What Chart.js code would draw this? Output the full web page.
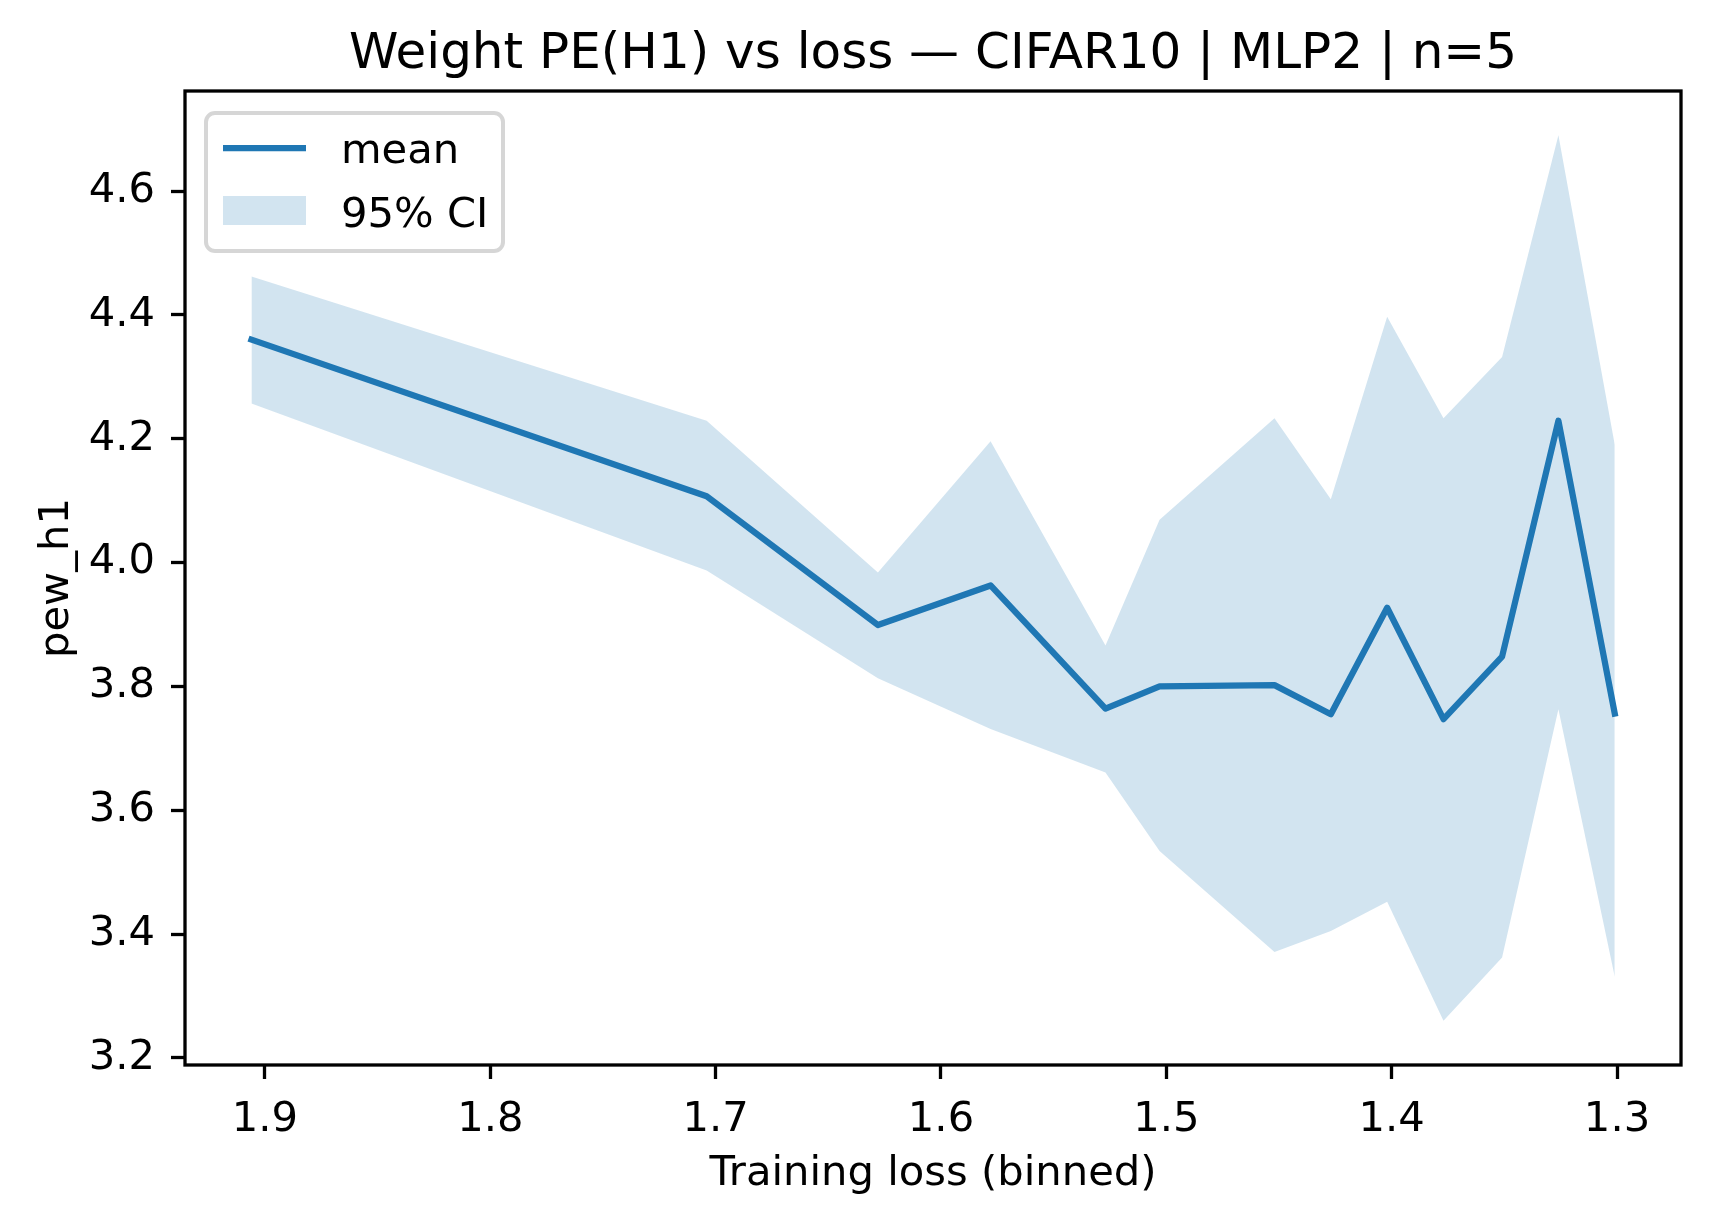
<!DOCTYPE html>
<html>
<head>
<meta charset="utf-8">
<script src="https://cdn.jsdelivr.net/npm/chart.js@4.4.0/dist/chart.umd.min.js"></script>
<style>
  html, body { margin: 0; padding: 0; background: #fff; }
  canvas { display: block; }
</style>
</head>
<body>
<canvas id="grafica" width="1711" height="1225"></canvas>
<script>
const lossBins = [1.906, 1.704, 1.628, 1.578, 1.527, 1.503, 1.452, 1.427, 1.402, 1.377, 1.351, 1.326, 1.301];
const meanValues = [4.360, 4.107, 3.899, 3.963, 3.764, 3.800, 3.802, 3.755, 3.927, 3.747, 3.848, 4.229, 3.756];
const upperValues = [4.462, 4.229, 3.984, 4.196, 3.866, 4.069, 4.233, 4.102, 4.397, 4.233, 4.332, 4.690, 4.190];
const lowerValues = [4.257, 3.987, 3.813, 3.731, 3.661, 3.534, 3.371, 3.405, 3.452, 3.260, 3.362, 3.763, 3.331];
const xTicks = [1.3, 1.4, 1.5, 1.6, 1.7, 1.8, 1.9];
const yTicks = [3.2, 3.4, 3.6, 3.8, 4.0, 4.2, 4.4, 4.6];

const titleText = 'Weight PE(H1) vs loss \u2014 CIFAR10 | MLP2 | n=5';
const blue = 'rgb(31, 119, 180)';
const blueBand = 'rgba(31, 119, 180, 0.2)';
const font = 'DejaVu Sans';

const points = (ys) => lossBins.map((x, i) => ({ x: x, y: ys[i] }));

// frame, legend box and title, drawn like matplotlib does
const decor = {
    id: 'decor',
    afterDatasetsDraw(chart) {
        const { ctx, chartArea: a } = chart;
        ctx.save();
        ctx.strokeStyle = '#000';
        ctx.lineWidth = 3.3;
        ctx.strokeRect(a.left, a.top, a.right - a.left, a.bottom - a.top);

        // legend
        const bx = 206, by = 113, bw = 297, bh = 138, r = 9;
        ctx.beginPath();
        ctx.moveTo(bx + r, by);
        ctx.arcTo(bx + bw, by, bx + bw, by + bh, r);
        ctx.arcTo(bx + bw, by + bh, bx, by + bh, r);
        ctx.arcTo(bx, by + bh, bx, by, r);
        ctx.arcTo(bx, by, bx + bw, by, r);
        ctx.closePath();
        ctx.fillStyle = 'rgba(255,255,255,0.8)';
        ctx.fill();
        ctx.strokeStyle = 'rgba(204,204,204,0.8)';
        ctx.lineWidth = 4;
        ctx.stroke();

        const ds = chart.data.datasets;
        ctx.strokeStyle = ds[0].borderColor;
        ctx.lineWidth = ds[0].borderWidth;
        ctx.beginPath();
        ctx.moveTo(223, 148);
        ctx.lineTo(306, 148);
        ctx.stroke();
        ctx.fillStyle = ds[1].backgroundColor;
        ctx.fillRect(223, 196, 83, 29);

        ctx.fillStyle = '#000';
        ctx.font = '41.7px "' + font + '"';
        ctx.textAlign = 'left';
        ctx.textBaseline = 'alphabetic';
        ctx.fillText(ds[0].label, 341, 163);
        ctx.fillText(ds[1].label, 341, 227);
        ctx.restore();
    },
    afterDraw(chart) {
        const { ctx, chartArea: a } = chart;
        ctx.save();
        ctx.fillStyle = '#000';
        ctx.font = '50px "' + font + '"';
        ctx.textAlign = 'center';
        ctx.textBaseline = 'alphabetic';
        ctx.fillText(titleText, (a.left + a.right) / 2, 68);
        ctx.restore();
    }
};

new Chart(document.getElementById('grafica'), {
    type: 'line',
    data: {
        datasets: [{
            label: 'mean',
            data: points(meanValues),
            borderColor: blue,
            borderWidth: 6.25,
            borderJoinStyle: 'round',
            borderCapStyle: 'square',
            pointRadius: 0,
            tension: 0,
            fill: false,
            order: 0
        }, {
            label: '95% CI',
            data: points(upperValues),
            borderWidth: 0,
            borderColor: 'rgba(0,0,0,0)',
            backgroundColor: blueBand,
            pointRadius: 0,
            tension: 0,
            fill: '+1',
            order: 1
        }, {
            label: '',
            data: points(lowerValues),
            borderWidth: 0,
            borderColor: 'rgba(0,0,0,0)',
            pointRadius: 0,
            tension: 0,
            fill: false,
            order: 1
        }]
    },
    options: {
        responsive: false,
        animation: false,
        devicePixelRatio: 1,
        layout: { padding: { left: 0, right: 30, top: 91, bottom: 0 } },
        plugins: {
            legend: { display: false },
            tooltip: { enabled: false }
        },
        scales: {
            x: {
                type: 'linear',
                reverse: true,
                min: 1.2716,
                max: 1.9355,
                afterFit: (s) => { s.height = 160; },
                afterBuildTicks: (s) => { s.ticks = xTicks.map(v => ({ value: v })); },
                grid: { drawOnChartArea: false, drawTicks: true, tickLength: 14, tickWidth: 3.3, tickColor: '#000' },
                border: { display: false },
                ticks: {
                    color: '#000',
                    padding: 16,
                    maxRotation: 0,
                    autoSkip: false,
                    font: { family: font, size: 41.7 },
                    callback: (v) => v.toFixed(1)
                },
                title: {
                    display: true,
                    text: 'Training loss (binned)',
                    color: '#000',
                    font: { family: font, size: 41.7 },
                    padding: { top: 0, bottom: 26 }
                }
            },
            y: {
                type: 'linear',
                min: 3.1885,
                max: 4.7615,
                afterFit: (s) => { s.width = 185; },
                afterBuildTicks: (s) => { s.ticks = yTicks.map(v => ({ value: v })); },
                grid: { drawOnChartArea: false, drawTicks: true, tickLength: 14, tickWidth: 3.3, tickColor: '#000' },
                border: { display: false },
                ticks: {
                    color: '#000',
                    padding: 16,
                    autoSkip: false,
                    font: { family: font, size: 41.7 },
                    callback: (v) => v.toFixed(1)
                },
                title: {
                    display: true,
                    text: 'pew_h1',
                    color: '#000',
                    font: { family: font, size: 41.7 },
                    padding: { top: 32, bottom: 0 }
                }
            }
        }
    },
    plugins: [decor]
});
</script>
</body>
</html>
